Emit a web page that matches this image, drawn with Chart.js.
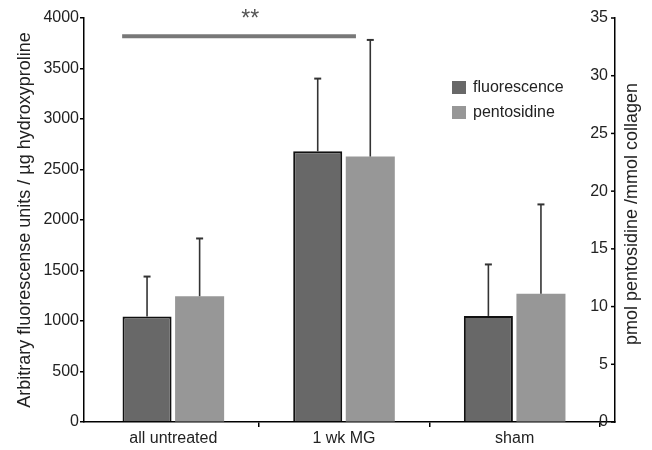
<!DOCTYPE html>
<html>
<head>
<meta charset="utf-8">
<script src="https://cdn.jsdelivr.net/npm/chart.js@4/dist/chart.umd.min.js"></script>
<style>
  html, body { margin: 0; padding: 0; background: #fff; }
  #wrap { width: 652px; height: 450px; }
</style>
</head>
<body>
<div id="wrap"><canvas id="grafico"></canvas></div>
<script>
var categories = ["all untreated", "1 wk MG", "sham"];
var fluorescence = [1045, 2680, 1050];
var fluorescenceSD = [395, 720, 510];
var pentosidine = [10.9, 23.0, 11.1];
var pentosidineSD = [5.0, 10.1, 7.75];
var leftTicks = [0, 500, 1000, 1500, 2000, 2500, 3000, 3500, 4000];
var rightTicks = [0, 5, 10, 15, 20, 25, 30, 35];
var sigSpan = [-0.3, 1.07];
var sigLevel = 3820;
var sigLabel = "**";

Chart.defaults.font.family = "'Liberation Sans', Arial, sans-serif";
Chart.defaults.color = "#222";

var extras = {
    id: 'extras',
    afterLayout: function (chart) {
        // categories do not fill the whole base line
        var x = chart.scales.x;
        x._startPixel = chart.chartArea.left + 4;
        x._endPixel = chart.chartArea.right - 15;
        x._length = x._endPixel - x._startPixel;
    },
    afterDatasetsDraw: function (chart) {
        var ctx = chart.ctx;
        var x = chart.scales.x, y = chart.scales.y, y1 = chart.scales.y1;
        var sds = [fluorescenceSD, pentosidineSD];
        ctx.save();
        // error bars
        chart.data.datasets.forEach(function (ds, i) {
            var meta = chart.getDatasetMeta(i);
            var sc = i === 0 ? y : y1;
            meta.data.forEach(function (bar, j) {
                var top = sc.getPixelForValue(ds.data[j] + sds[i][j]);
                ctx.strokeStyle = '#333';
                ctx.lineWidth = 1.6;
                ctx.beginPath();
                ctx.moveTo(bar.x, bar.y);
                ctx.lineTo(bar.x, top);
                ctx.stroke();
                ctx.lineWidth = 2;
                ctx.beginPath();
                ctx.moveTo(bar.x - 3.5, top);
                ctx.lineTo(bar.x + 3.5, top);
                ctx.stroke();
            });
        });
        // significance bar
        var sy = y.getPixelForValue(sigLevel);
        var catW = x.getPixelForValue(1) - x.getPixelForValue(0);
        var sx1 = x.getPixelForValue(0) + sigSpan[0] * catW;
        var sx2 = x.getPixelForValue(0) + sigSpan[1] * catW;
        ctx.strokeStyle = '#787878';
        ctx.lineWidth = 4;
        ctx.beginPath();
        ctx.moveTo(sx1, sy);
        ctx.lineTo(sx2, sy);
        ctx.stroke();
        ctx.fillStyle = '#555';
        ctx.font = "23px 'Liberation Sans', Arial, sans-serif";
        ctx.textAlign = 'center';
        ctx.textBaseline = 'alphabetic';
        ctx.fillText(sigLabel, x.getPixelForValue(0) + 0.45 * catW, sy - 10);
        // right axis ticks point inward
        ctx.strokeStyle = '#000';
        ctx.lineWidth = 1.5;
        y1.ticks.forEach(function (t) {
            var ty = y1.getPixelForValue(t.value);
            ctx.beginPath();
            ctx.moveTo(y1.left - 4, ty);
            ctx.lineTo(y1.left, ty);
            ctx.stroke();
        });
        // right axis title, read bottom to top
        ctx.save();
        ctx.textBaseline = 'middle';
        ctx.translate(y1.left + 17, (chart.chartArea.top + chart.chartArea.bottom) / 2 - 6);
        ctx.rotate(-Math.PI / 2);
        ctx.fillStyle = '#222';
        ctx.font = "18px 'Liberation Sans', Arial, sans-serif";
        ctx.fillText('pmol pentosidine /mmol collagen', 0, 0);
        ctx.restore();
        // legend
        var lx = chart.chartArea.left + 368;
        var ly = chart.chartArea.top + 63;
        ctx.textBaseline = 'middle';
        chart.data.datasets.forEach(function (ds, i) {
            ctx.fillStyle = ds.backgroundColor;
            ctx.fillRect(lx, ly + i * 25, 14, 13);
            ctx.fillStyle = '#222';
            ctx.textAlign = 'left';
            ctx.font = "16px 'Liberation Sans', Arial, sans-serif";
            ctx.fillText(ds.label, lx + 21, ly + i * 25 + 7);
        });
        ctx.restore();
    }
};

var ctx = document.getElementById("grafico");

var myChart = new Chart(ctx, {
    type: 'bar',
    data: {
        labels: categories,
        datasets: [{
            label: 'fluorescence',
            data: fluorescence,
            yAxisID: 'y',
            backgroundColor: '#686868',
            borderColor: '#111',
            borderWidth: 2
        }, {
            label: 'pentosidine',
            data: pentosidine,
            yAxisID: 'y1',
            backgroundColor: '#979797',
            borderWidth: 0
        }]
    },
    options: {
        responsive: true,
        maintainAspectRatio: false,
        animation: false,
        categoryPercentage: 0.616,
        barPercentage: 0.933,
        layout: { padding: { left: 10, top: 18, right: 0, bottom: 0 } },
        plugins: {
            legend: { display: false },
            tooltip: { enabled: false }
        },
        scales: {
            x: {
                grid: {
                    drawOnChartArea: false,
                    tickLength: 5,
                    lineWidth: 1.5,
                    color: function (c) { return (c.index === 0 || c.index === 3) ? 'rgba(0,0,0,0)' : '#000'; }
                },
                border: { color: '#000', width: 1.5 },
                ticks: { font: { size: 16 }, padding: 2, color: '#222' },
                afterFit: function (s) { s.height = 28; }
            },
            y: {
                position: 'left',
                min: 0,
                max: 4000,
                afterBuildTicks: function (s) { s.ticks = leftTicks.map(function (v) { return { value: v }; }); },
                grid: { drawOnChartArea: false, tickLength: 4, color: '#000', lineWidth: 1.5 },
                border: { color: '#000', width: 1.5 },
                ticks: {
                    font: { size: 16 }, padding: 1, color: '#222',
                    callback: function (v) { return String(v); }
                },
                title: {
                    display: true,
                    text: 'Arbitrary fluorescense units / µg hydroxyproline',
                    font: { size: 18 },
                    color: '#222'
                },
                afterFit: function (s) { s.width = 74; }
            },
            y1: {
                position: 'right',
                min: 0,
                max: 35,
                afterBuildTicks: function (s) { s.ticks = rightTicks.map(function (v) { return { value: v }; }); },
                grid: { drawOnChartArea: false, drawTicks: false },
                border: { color: '#000', width: 1.5 },
                ticks: {
                    font: { size: 16 }, mirror: true, padding: -7, color: '#222',
                    callback: function (v) { return String(v); }
                },
                afterFit: function (s) { s.width = 37; }
            }
        }
    },
    plugins: [extras]
});
</script>
</body>
</html>
